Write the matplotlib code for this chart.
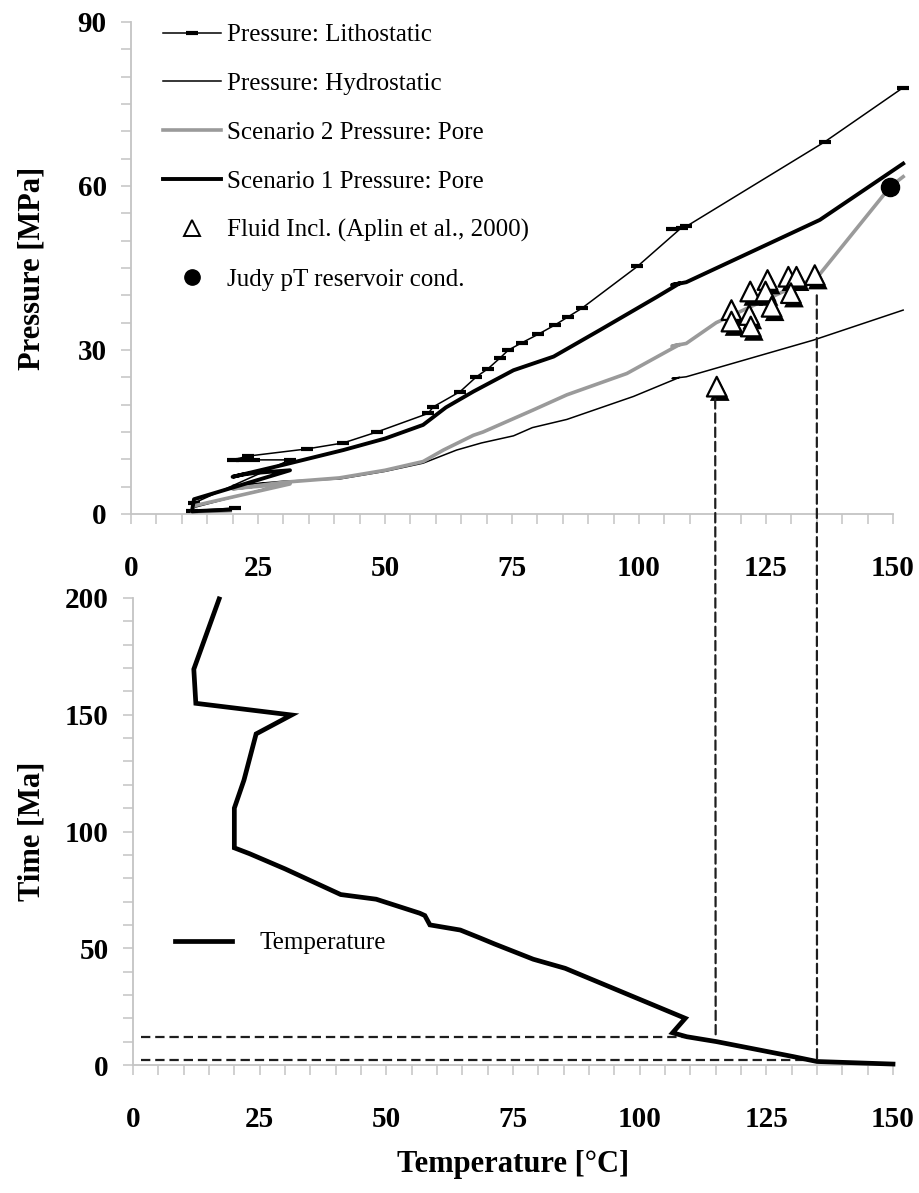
import matplotlib
matplotlib.use('Agg')
import matplotlib.pyplot as plt
import matplotlib.patheffects as pe
from matplotlib.patches import ConnectionPatch
from matplotlib.lines import Line2D
from matplotlib.ticker import MultipleLocator

plt.rcParams['font.family'] = ['Liberation Serif', 'DejaVu Serif']

# ---------------- data: top panel (Pressure vs Temperature) ----------------
litho_T = [20.5, 12, 12.4, 31.3, 24.3, 21.9, 20.0, 23.1, 34.6, 41.8, 48.4, 58.5, 59.5, 64.8, 68.0,
           70.3, 72.6, 74.3, 76.9, 80.2, 83.5, 86.1, 88.7, 99.7, 108.4, 106.5, 109.3, 136.6, 152]
litho_P = [1.1, 0.6, 2.0, 9.9, 9.9, 9.9, 9.9, 10.6, 11.9, 13.0, 15.0, 18.4, 19.6, 22.4, 25.1,
           26.6, 28.5, 30.0, 31.3, 32.9, 34.6, 36.1, 37.6, 45.3, 52.4, 52.2, 52.6, 68.1, 78.0]

hydro_T = [19.5, 12, 12.4, 31.3, 24.3, 21.9, 20, 30, 41, 50, 57.5, 64.1, 69, 75.3, 79, 85.8,
           98.9, 108, 106.5, 109.3, 134.3, 152]
hydro_P = [0.5, 0.3, 1.2, 5.8, 5.5, 5.3, 5.2, 6.0, 6.4, 7.8, 9.3, 11.7, 13.0, 14.3, 15.8, 17.3,
           21.5, 25.0, 24.8, 25.1, 31.8, 37.3]

s2_T = [19.5, 12, 12.4, 31.3, 24.3, 21.9, 20, 30, 41, 50, 57.5, 61.5, 67.4, 69.3, 79.1, 85.8,
        97.6, 106, 108, 106.5, 109.3, 115.2, 130.3, 135, 149.5, 152]
s2_P = [0.6, 0.4, 1.5, 5.5, 5.0, 4.8, 4.6, 5.8, 6.6, 8.0, 9.6, 11.7, 14.4, 15.0, 19.0, 21.8,
        25.7, 30.0, 31.0, 30.7, 31.2, 35.0, 41.5, 43.2, 59.9, 61.7]

s1_T = [19.5, 12, 12.4, 31.3, 24.3, 21.9, 20.0, 30, 41.8, 50, 57.5, 62, 67.4, 75.3, 83.2, 92.4,
        103.5, 108, 106.5, 109.3, 135.6, 152]
s1_P = [0.8, 0.5, 2.7, 8.0, 7.5, 7.2, 6.8, 9.0, 11.7, 13.8, 16.3, 19.5, 22.4, 26.3, 28.8, 33.7,
        39.7, 42.2, 41.9, 42.4, 53.8, 64.1]

fi_T = [115.3, 118.2, 118.2, 121.9, 121.7, 122.0, 125.3, 124.9, 126.1, 129.4, 131.0, 129.9, 134.6]
fi_P = [23.3, 37.3, 35.2, 40.7, 36.4, 34.3, 42.8, 40.7, 37.9, 43.4, 43.4, 40.4, 43.7]

judy_T = [149.5]
judy_P = [59.9]

# ---------------- data: bottom panel (Time vs Temperature) ----------------
temp_C = [17, 12, 12.4, 31.3, 24.3, 21.9, 20, 20, 23, 30, 41, 48, 56.6, 57.6, 58.6, 64.6, 68.5,
          71.4, 79, 85.3, 109, 106.5, 109.3, 115.2, 130.3, 135, 150]
time_Ma = [199.6, 169.5, 154.9, 149.9, 141.8, 122, 110, 93, 90.5, 84, 73, 71, 65, 64, 60, 57.8,
           54.4, 51.8, 45.3, 41.4, 20, 13.8, 12.1, 10, 3.6, 1.5, 0.4]

# guide (dashed) lines linking the panels
guide_T = [115, 135]          # temperature of the vertical guides
guide_P_start = [21, 40]      # pressure where they start (top panel)
guide_time = [12, 2]          # time reached on the bottom panel
guide_T_end = [109, 133]      # end of the horizontal guides

x_ticks = [0, 25, 50, 75, 100, 125, 150]
x_labels = ['0', '25', '50', '75', '100', '125', '150']
p_ticks = [0, 30, 60, 90]
p_labels = ['0', '30', '60', '90']
t_ticks = [0, 50, 100, 150, 200]
t_labels = ['0', '50', '100', '150', '200']

# ---------------- figure ----------------
fig = plt.figure(figsize=(9.2, 11.93), dpi=100)
ax1 = fig.add_axes([131 / 920, 1 - 514 / 1193, 762 / 920, 492 / 1193])
ax2 = fig.add_axes([133 / 920, 1 - 1065 / 1193, 760 / 920, 467 / 1193])

AX_GREY = '#c4c4c4'


def style(ax, xt, xl, yt, yl, xminor, yminor):
    for s in ['top', 'right']:
        ax.spines[s].set_visible(False)
    for s in ['left', 'bottom']:
        ax.spines[s].set_color(AX_GREY)
        ax.spines[s].set_linewidth(1.3)
    ax.set_xticks(xt)
    ax.set_xticklabels(xl, fontsize=21, fontweight='bold')
    ax.set_yticks(yt)
    ax.set_yticklabels(yl, fontsize=21, fontweight='bold')
    ax.xaxis.set_minor_locator(MultipleLocator(xminor))
    ax.yaxis.set_minor_locator(MultipleLocator(yminor))
    ax.tick_params(which='both', direction='out', length=7.5, width=1.1, color=AX_GREY)
    ax.tick_params(axis='x', which='both', pad=22)
    ax.tick_params(axis='y', which='both', pad=10)


# ---- top panel ----
ax1.plot(litho_T, litho_P, color='black', lw=1.1, marker='_', ms=8, mew=3,
         clip_on=False, label='Pressure: Lithostatic', zorder=3)
ax1.plot(hydro_T, hydro_P, color='black', lw=1.1, clip_on=False,
         label='Pressure: Hydrostatic', zorder=3)
ax1.plot(s2_T, s2_P, color='#9a9a9a', lw=2.6, clip_on=False,
         label='Scenario 2 Pressure: Pore', zorder=4)
ax1.plot(s1_T, s1_P, color='black', lw=2.8, clip_on=False,
         label='Scenario 1 Pressure: Pore', zorder=5)
ax1.scatter(fi_T, fi_P, marker='^', s=200, facecolor='white', edgecolor='black',
            linewidths=1.6, zorder=7, clip_on=False,
            path_effects=[pe.SimplePatchShadow(offset=(2.2, -3.2), shadow_rgbFace='black', alpha=1.0),
                          pe.Normal()])
ax1.scatter(judy_T, judy_P, marker='o', s=170, color='black', zorder=8, clip_on=False)

ax1.set_xlim(0, 150)
ax1.set_ylim(0, 90)
style(ax1, x_ticks, x_labels, p_ticks, p_labels, 5, 5)
ax1.set_ylabel('Pressure [MPa]', fontsize=22, fontweight='bold')
ax1.yaxis.set_label_coords(-0.111, 0.5)

handles = [
    Line2D([], [], color='black', lw=1.1, marker='_', ms=8, mew=3),
    Line2D([], [], color='black', lw=1.1),
    Line2D([], [], color='#9a9a9a', lw=2.6),
    Line2D([], [], color='black', lw=2.8),
    Line2D([], [], ls='none', marker='^', ms=11, mfc='white', mec='black', mew=1.4),
    Line2D([], [], ls='none', marker='o', ms=11, color='black'),
]
labels = ['Pressure: Lithostatic', 'Pressure: Hydrostatic', 'Scenario 2 Pressure: Pore',
          'Scenario 1 Pressure: Pore', 'Fluid Incl. (Aplin et al., 2000)', 'Judy pT reservoir cond.']
ax1.legend(handles, labels, loc='upper left', bbox_to_anchor=(0.042, 0.996), frameon=False,
           fontsize=18, handlelength=2.3, handletextpad=0.25, labelspacing=1.05,
           borderpad=0, borderaxespad=0)

# ---- bottom panel ----
ax2.plot(temp_C, time_Ma, color='black', lw=3.4, solid_joinstyle='miter', zorder=4,
         label='Temperature', clip_on=False)
ax2.set_xlim(0, 150)
ax2.set_ylim(0, 200)
style(ax2, x_ticks, x_labels, t_ticks, t_labels, 5, 10)
ax2.set_ylabel('Time [Ma]', fontsize=22, fontweight='bold')
ax2.yaxis.set_label_coords(-0.114, 0.5)
ax2.set_xlabel('Temperature [°C]', fontsize=22, fontweight='bold')
ax2.xaxis.set_label_coords(0.5, -0.183)
ax2.legend(loc='center left', bbox_to_anchor=(0.055, 0.261), frameon=False, fontsize=18,
           handlelength=2.3, handletextpad=1.1, borderpad=0, borderaxespad=0)

# ---- dashed guides ----
for gT, gP, gt, gTe in zip(guide_T, guide_P_start, guide_time, guide_T_end):
    con = ConnectionPatch(xyA=(gT, gP), xyB=(gT, gt), coordsA=ax1.transData,
                          coordsB=ax2.transData, color='#1e1e1e', lw=1.6,
                          linestyle=(0, (4.2, 2.2)), zorder=6)
    fig.add_artist(con)
    ax2.plot([1.5, gTe], [gt, gt], color='#1e1e1e', lw=1.6, linestyle=(0, (4.2, 2.2)),
             zorder=3)

fig.savefig('out.png', dpi=100)
